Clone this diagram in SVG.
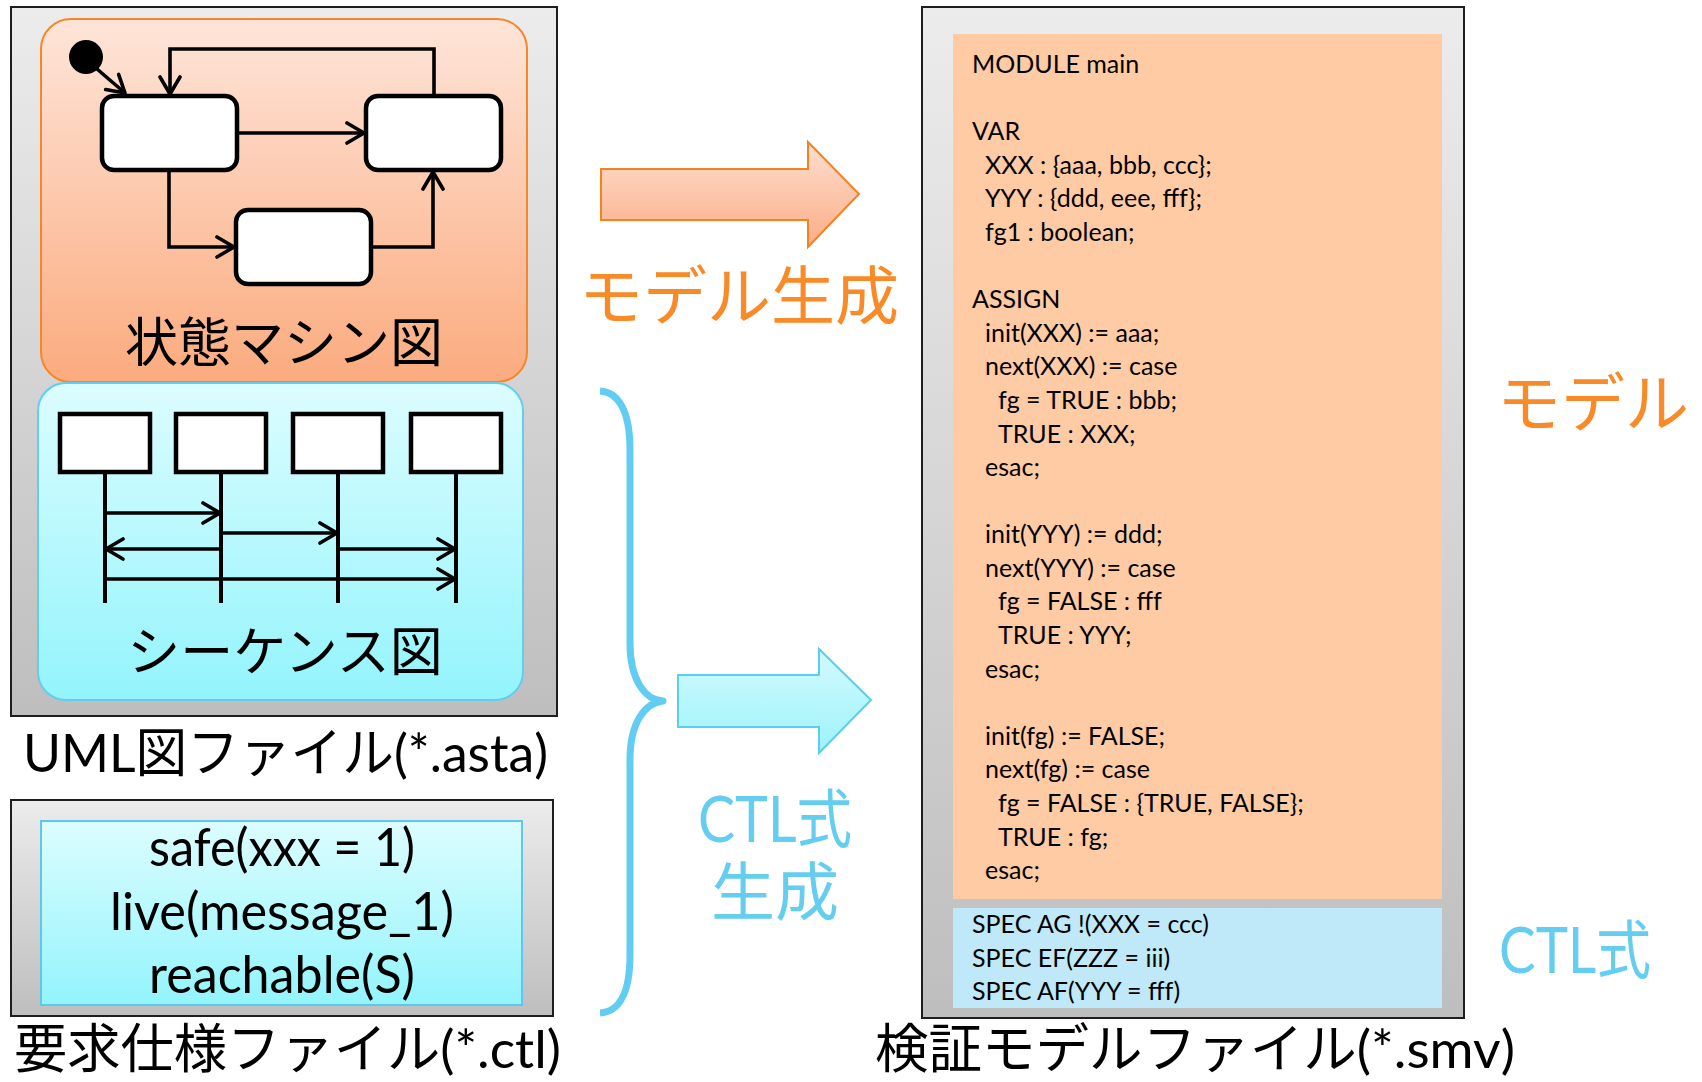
<svg xmlns="http://www.w3.org/2000/svg" width="1702" height="1082" viewBox="0 0 1702 1082">
  <defs>
    <linearGradient id="gGray" x1="0" y1="0" x2="0" y2="1">
      <stop offset="0" stop-color="#ECECEC"/>
      <stop offset="1" stop-color="#BEBEBE"/>
    </linearGradient>
    <linearGradient id="gOrange" x1="0" y1="0" x2="0" y2="1">
      <stop offset="0" stop-color="#FEE5D9"/>
      <stop offset="1" stop-color="#FBAB7E"/>
    </linearGradient>
    <linearGradient id="gCyan" x1="0" y1="0" x2="0" y2="1">
      <stop offset="0" stop-color="#DCFDFF"/>
      <stop offset="1" stop-color="#93F4FC"/>
    </linearGradient>
    <linearGradient id="gArrowOrange" x1="0" y1="0" x2="0" y2="1">
      <stop offset="0" stop-color="#FEDFCF"/>
      <stop offset="1" stop-color="#FBAD86"/>
    </linearGradient>
    <linearGradient id="gArrowCyan" x1="0" y1="0" x2="0" y2="1">
      <stop offset="0" stop-color="#D3FAFF"/>
      <stop offset="1" stop-color="#9CF3FB"/>
    </linearGradient>
    <marker id="open" markerUnits="userSpaceOnUse" markerWidth="24" markerHeight="26" refX="20" refY="12" orient="auto">
      <path d="M3,2 L20,12 L3,22" fill="none" stroke="#000" stroke-width="3.6" stroke-linecap="round" stroke-linejoin="round"/>
    </marker>
    <style>
      .file { fill: url(#gGray); stroke: #1E1E1E; stroke-width: 2; }
      .state { fill: #FFFFFF; stroke: #000; stroke-width: 4.5; }
      .obj { fill: #FFFFFF; stroke: #000; stroke-width: 4.5; }
      .wire { fill: none; stroke: #000; stroke-width: 3.6; }
      .life { fill: none; stroke: #000; stroke-width: 4; }
      .msg { fill: none; stroke: #000; stroke-width: 3.6; marker-end: url(#open); }
      .lbl { font-family: "Lato", "Noto Sans CJK JP", sans-serif; font-size: 53px; fill: #000; }
      .jp { font-family: "Noto Sans CJK JP", sans-serif; font-size: 53px; fill: #000; }
      .code { font-family: "Lato", "Noto Sans CJK JP", sans-serif; font-size: 25px; fill: #000; }
      .orangeT { font-family: "Lato", "Noto Sans CJK JP", sans-serif; font-size: 64px; fill: #F98A28; }
      .cyanT { font-family: "Lato", "Noto Sans CJK JP", sans-serif; font-size: 64px; fill: #64CDF0; }
    </style>
  </defs>

  <!-- UML diagram file -->
  <g id="uml-file">
    <rect class="file" x="11" y="7" width="546" height="709"/>
    <text class="lbl" x="23" y="772" textLength="525" lengthAdjust="spacingAndGlyphs">UML図ファイル(*.asta)</text>
  </g>

  <!-- State machine diagram panel -->
  <g id="state-machine">
    <rect x="41" y="19" width="486" height="363" rx="30" fill="url(#gOrange)" stroke="#F7862A" stroke-width="2"/>
    <circle id="initial" cx="86" cy="57" r="17" fill="#000"/>
    <rect id="state-1" class="state" x="102" y="96" width="135" height="74" rx="12"/>
    <rect id="state-2" class="state" x="366" y="96" width="135" height="74" rx="12"/>
    <rect id="state-3" class="state" x="236" y="210" width="135" height="74" rx="12"/>
    <text class="jp" x="284" y="362" text-anchor="middle">状態マシン図</text>
  </g>

  <!-- Sequence diagram panel -->
  <g id="sequence">
    <rect x="38" y="383" width="485" height="317" rx="28" fill="url(#gCyan)" stroke="#66CCEE" stroke-width="2"/>
    <rect id="obj-1" class="obj" x="60" y="414" width="90" height="58"/>
    <rect id="obj-2" class="obj" x="176" y="414" width="90" height="58"/>
    <rect id="obj-3" class="obj" x="293" y="414" width="90" height="58"/>
    <rect id="obj-4" class="obj" x="411" y="414" width="90" height="58"/>
    <path class="life" d="M105,472 V603 M221,472 V603 M338,472 V603 M456,472 V603"/>
    <text class="jp" x="285" y="671" text-anchor="middle">シーケンス図</text>
  </g>

  <!-- Transitions and messages -->
  <g id="connectors">
    <path class="wire" d="M97,69 L125,93" marker-end="url(#open)"/>
    <path class="wire" d="M239,133 L364,133" marker-end="url(#open)"/>
    <path class="wire" d="M434,94 L434,49 L170,49 L170,94" marker-end="url(#open)"/>
    <path class="wire" d="M169,172 L169,247 L234,247" marker-end="url(#open)"/>
    <path class="wire" d="M373,247 L433,247 L433,172" marker-end="url(#open)"/>

    <path class="msg" d="M105,513 L220,513"/>
    <path class="msg" d="M221,533 L337,533"/>
    <path class="msg" d="M221,549 L106,549"/>
    <path class="msg" d="M338,549 L455,549"/>
    <path class="msg" d="M105,579 L455,579"/>
  </g>

  <!-- Requirement specification file -->
  <g id="ctl-file">
    <rect class="file" x="11" y="800" width="542" height="216"/>
    <rect x="41" y="821" width="481" height="184" fill="url(#gCyan)" stroke="#5DC8EC" stroke-width="2"/>
    <text class="lbl" x="149" y="866" textLength="266" lengthAdjust="spacingAndGlyphs">safe(xxx = 1)</text>
    <text class="lbl" x="110" y="930" textLength="344" lengthAdjust="spacingAndGlyphs">live(message_1)</text>
    <text class="lbl" x="149" y="993" textLength="266" lengthAdjust="spacingAndGlyphs">reachable(S)</text>
    <text class="lbl" x="14" y="1068" textLength="547" lengthAdjust="spacingAndGlyphs">要求仕様ファイル(*.ctl)</text>
  </g>

  <!-- Model generation step -->
  <g id="model-gen">
    <polygon points="601,169 808,169 808,142 859,194 808,247 808,220 601,220" fill="url(#gArrowOrange)" stroke="#F58220" stroke-width="2"/>
    <text class="orangeT" x="739" y="319" text-anchor="middle">モデル生成</text>
  </g>

  <!-- CTL generation step -->
  <g id="ctl-gen">
    <path d="M600,391 C618,392 630,410 630,450 L630,643 C630,680 645,700 663,701 C645,703 630,722 630,760 L630,955 C630,995 618,1012 600,1013" fill="none" stroke="#62CDF2" stroke-width="7" stroke-linejoin="round"/>
    <polygon points="678,675 819,675 819,649 871,700 819,753 819,727 678,727" fill="url(#gArrowCyan)" stroke="#5CCDEF" stroke-width="2"/>
    <text class="cyanT" x="698" y="842" textLength="154" lengthAdjust="spacingAndGlyphs">CTL式</text>
    <text class="cyanT" x="775" y="915" text-anchor="middle">生成</text>
  </g>

  <!-- Verification model file -->
  <g id="smv-file">
    <rect class="file" x="922" y="7" width="542" height="1011"/>
    <rect x="953" y="34" width="489" height="865" fill="#FFCBA4"/>
    <rect x="953" y="908" width="489" height="100" fill="#BFE8F8"/>
    <g class="code">
      <text x="972" y="73">MODULE main</text>
      <text x="972" y="140">VAR</text>
      <text x="985" y="174">XXX : {aaa, bbb, ccc};</text>
      <text x="985" y="207">YYY : {ddd, eee, fff};</text>
      <text x="985" y="241">fg1 : boolean;</text>
      <text x="972" y="308">ASSIGN</text>
      <text x="985" y="342">init(XXX) := aaa;</text>
      <text x="985" y="375">next(XXX) := case</text>
      <text x="998" y="409">fg = TRUE : bbb;</text>
      <text x="998" y="443">TRUE : XXX;</text>
      <text x="985" y="476">esac;</text>
      <text x="985" y="543">init(YYY) := ddd;</text>
      <text x="985" y="577">next(YYY) := case</text>
      <text x="998" y="610">fg = FALSE : fff</text>
      <text x="998" y="644">TRUE : YYY;</text>
      <text x="985" y="678">esac;</text>
      <text x="985" y="745">init(fg) := FALSE;</text>
      <text x="985" y="778">next(fg) := case</text>
      <text x="998" y="812">fg = FALSE : {TRUE, FALSE};</text>
      <text x="998" y="846">TRUE : fg;</text>
      <text x="985" y="879">esac;</text>
      <text x="972" y="933">SPEC AG !(XXX = ccc)</text>
      <text x="972" y="967">SPEC EF(ZZZ = iii)</text>
      <text x="972" y="1000">SPEC AF(YYY = fff)</text>
    </g>
    <text class="lbl" x="875" y="1068" textLength="640" lengthAdjust="spacingAndGlyphs">検証モデルファイル(*.smv)</text>
  </g>

  <!-- Side captions -->
  <g id="captions">
    <text class="orangeT" x="1497" y="426">モデル</text>
    <text class="cyanT" x="1499" y="973" textLength="152" lengthAdjust="spacingAndGlyphs">CTL式</text>
  </g>
</svg>
